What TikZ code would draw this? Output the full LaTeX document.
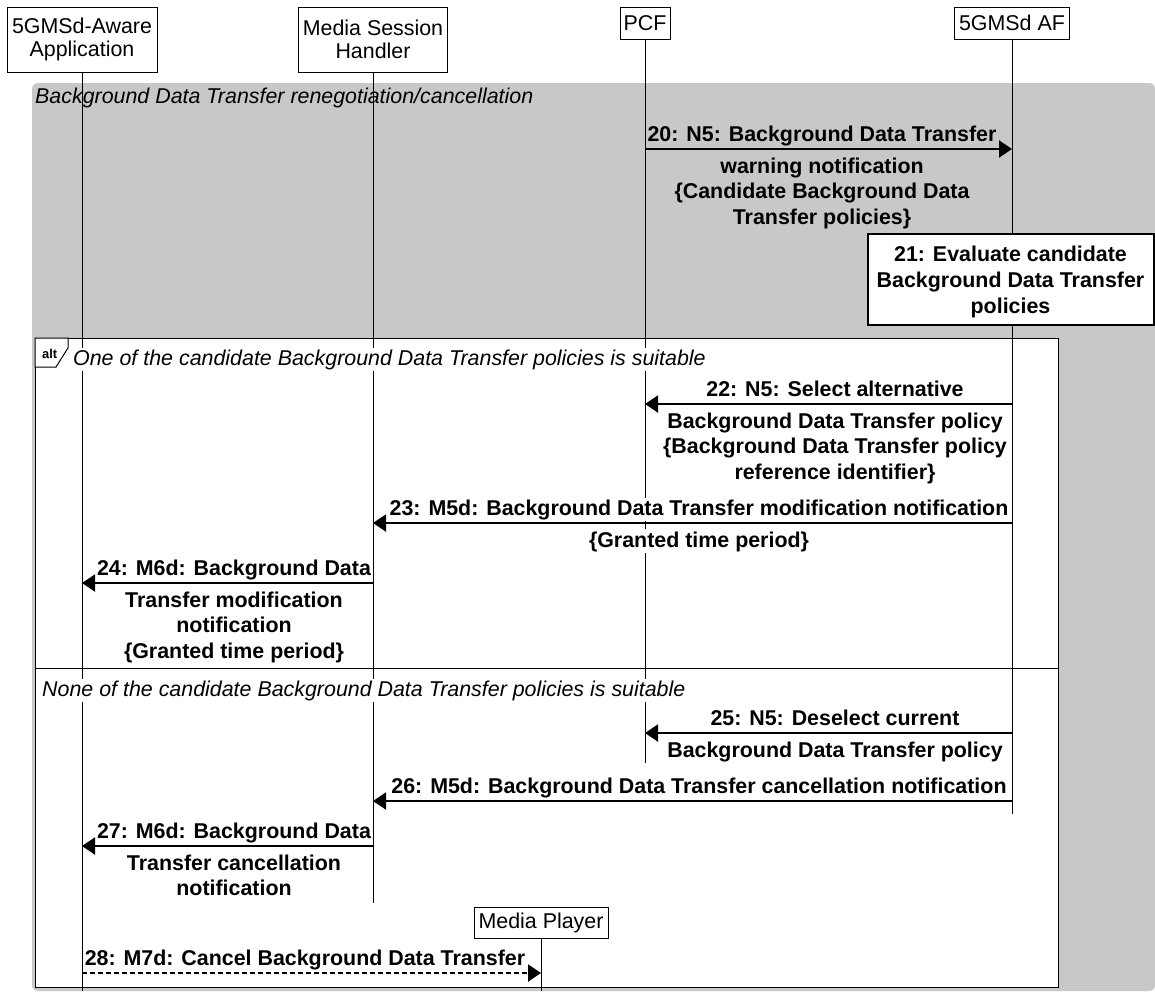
\documentclass[tikz,border=0pt]{standalone}
\usepackage{fontspec}
\setmainfont{Liberation Sans}
\usetikzlibrary{arrows.meta}
\definecolor{bggray}{RGB}{200,200,200}
\begin{document}
\begin{tikzpicture}[x=1pt,y=-1pt,
  hdr/.style={draw,line width=1pt,fill=white,inner sep=0pt,align=center,font=\fontsize{21.4}{23.5}\selectfont},
  life/.style={line width=1pt},
  msg/.style={line width=2pt,-{Triangle[length=13pt,width=17pt]}},
  lblA/.style={anchor=base,inner xsep=1pt,inner ysep=1.5pt,yshift=8pt,font=\fontsize{21.4}{25.8}\selectfont\bfseries},
  lblB/.style={anchor=north,inner xsep=1pt,inner ysep=1.5pt,yshift=-4.5pt,align=center,font=\fontsize{21.4}{25.8}\selectfont\bfseries},
  wb/.style={fill=white},
  note/.style={anchor=base west,inner xsep=1pt,inner ysep=2pt,font=\fontsize{21.4}{25.8}\selectfont\itshape},
]
\useasboundingbox (0,0) rectangle (1155,991);
% background region
\fill[bggray, rounded corners=6pt] (32,83) rectangle (1155,991);
\node[note, fill=bggray] (t0) at (34,103) {Background Data Transfer renegotiation/cancellation};
% alt frame
\draw[line width=1pt, fill=white] (35,338) rectangle (1058,987);
\draw[line width=1pt] (35,668) -- (1058,668);
\draw[line width=1pt, fill=white] (35,338) -- (68,338) -- (68,348) -- (56,367) -- (35,367) -- cycle;
\node[anchor=base west, inner sep=0pt, font=\fontsize{12.9}{14}\selectfont\bfseries] (altt) at (42,358) {alt};
% participants
\node[hdr, minimum width=150pt, minimum height=65pt] (app) at (82,39.5) {5GMSd-Aware\\Application};
\node[hdr, minimum width=149pt, minimum height=65pt] (msh) at (373,39.5) {Media Session\\Handler};
\node[hdr, minimum width=50pt, minimum height=32pt] (pcf) at (645,23) {PCF};
\node[hdr, minimum width=115pt, minimum height=32pt] (af) at (1012,23) {5GMSd AF};
\node[hdr, minimum width=134pt, minimum height=31pt] (mp) at (541,922.5) {Media Player};
% lifelines
\draw[life] (app.south) -- (app |- 0,991);
\draw[life] (msh.south) -- (msh |- 0,903);
\draw[life] (pcf.south) -- (pcf |- 0,763);
\draw[life] (af.south) -- (af |- 0,814);
\draw[life] (mp.south) -- (mp |- 0,991);
% section notes
\node[note, fill=white] (t1) at (72,365) {One of the candidate Background Data Transfer policies is suitable};
\node[note, fill=white] (t2) at (41,696) {None of the candidate Background Data Transfer policies is suitable};
% 20
\draw[msg] (pcf |- 0,149) -- (af |- 0,149)
  node[lblA,pos=.5,xshift=-6.5pt] (l20a) {20: N5: Background Data Transfer}
  node[lblB,pos=.5,xshift=-6.5pt] (l20b) {\rule{0pt}{17pt}warning notification\\\{Candidate Background Data\\Transfer policies\}};
% 21
\node[draw, line width=2pt, fill=white, minimum width=286pt, minimum height=91pt, inner sep=0pt, align=center,
  font=\fontsize{21.4}{25.8}\selectfont\bfseries] (e21) at (1010.5,279.5)
  {\rule{0pt}{20.5pt}21: Evaluate candidate\\Background Data Transfer\\policies};
% 22
\draw[msg] (af |- 0,404) -- (pcf |- 0,404)
  node[lblA,wb,pos=.5,xshift=6.5pt] (l22a) {22: N5: Select alternative}
  node[lblB,wb,pos=.5,xshift=6.5pt] (l22b) {\rule{0pt}{17pt}Background Data Transfer policy\\\{Background Data Transfer policy\\reference identifier\}};
% 23
\draw[msg] (af |- 0,523) -- (msh |- 0,523)
  node[lblA,wb,pos=.5,xshift=6.5pt] (l23a) {23: M5d: Background Data Transfer modification notification}
  node[lblB,wb,pos=.5,xshift=6.5pt] (l23b) {\rule{0pt}{17pt}\{Granted time period\}};
% 24
\draw[msg] (msh |- 0,583) -- (app |- 0,583)
  node[lblA,wb,pos=.5,xshift=6.5pt] (l24a) {24: M6d: Background Data}
  node[lblB,wb,pos=.5,xshift=6.5pt] (l24b) {\rule{0pt}{17pt}Transfer modification\\notification\\\{Granted time period\}};
% 25
\draw[msg] (af |- 0,733) -- (pcf |- 0,733)
  node[lblA,wb,pos=.5,xshift=6.5pt] (l25a) {25: N5: Deselect current}
  node[lblB,wb,pos=.5,xshift=6.5pt] (l25b) {\rule{0pt}{17pt}Background Data Transfer policy};
% 26
\draw[msg] (af |- 0,801) -- (msh |- 0,801)
  node[lblA,wb,pos=.5,xshift=6.5pt] (l26a) {26: M5d: Background Data Transfer cancellation notification};
% 27
\draw[msg] (msh |- 0,846) -- (app |- 0,846)
  node[lblA,wb,pos=.5,xshift=6.5pt] (l27a) {27: M6d: Background Data}
  node[lblB,wb,pos=.5,xshift=6.5pt] (l27b) {\rule{0pt}{17pt}Transfer cancellation\\notification};
% 28
\draw[msg, dash pattern=on 5pt off 3pt] (app |- 0,973) -- (mp |- 0,973)
  node[lblA,wb,pos=.5,xshift=-6.5pt] (l28a) {28: M7d: Cancel Background Data Transfer};
\end{tikzpicture}
\end{document}
